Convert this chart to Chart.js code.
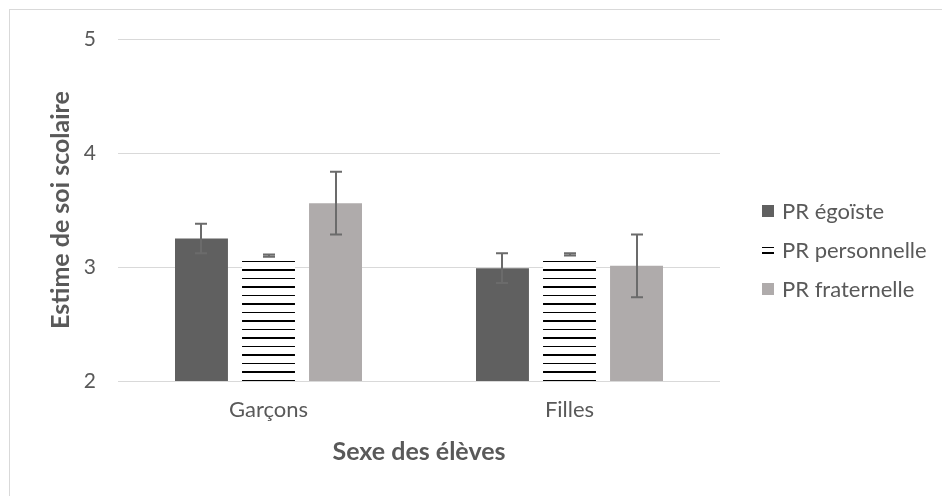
<!DOCTYPE html>
<html>
<head>
<meta charset="utf-8">
<script src="https://cdn.jsdelivr.net/npm/chart.js@4"></script>
<style>
body{margin:0;background:#fff;font-family:Lato,sans-serif}
#wrap{position:relative;width:942px;height:496px;overflow:hidden}
#frame{position:absolute;left:9px;top:9px;width:960px;height:520px;border:1px solid #d9d9d9;box-sizing:border-box}
#chart{position:absolute;left:0;top:0}
#legend{position:absolute;left:762px;top:191px;color:#595959;font-size:22px}
.item{display:flex;align-items:center;height:39px}
.swatch{width:12px;height:12px;margin-right:8px;box-sizing:border-box}
.stripes{border-top:1px solid #000;border-bottom:2px solid #000;height:7px;margin-top:2px}
</style>
</head>
<body>
<div id="wrap">
  <div id="frame"></div>
  <canvas id="chart" width="942" height="496"></canvas>
  <div id="legend"></div>
</div>
<script>
// data
const categories = ["Garçons", "Filles"]
const seriesNames = ["PR égoïste", "PR personnelle", "PR fraternelle"]
const egoiste = [3.25, 2.99]
const egoisteErr = [0.13, 0.13]
const personnelle = [3.10, 3.11]
const personnelleErr = [0.01, 0.01]
const fraternelle = [3.56, 3.01]
const fraternelleErr = [0.275, 0.275]

const yTicks = [2, 3, 4, 5]

const textColor = "#595959"
const gridColor = "#d9d9d9"

// horizontal lines, thin and thick one after the other
function makeStripes(){
    const c = document.createElement("canvas")
    c.width = 8
    c.height = 17
    const g = c.getContext("2d")
    g.fillStyle = "#fff"
    g.fillRect(0, 0, 8, 17)
    g.fillStyle = "#000"
    g.fillRect(0, 6, 8, 1)
    g.fillRect(0, 14, 8, 2)
    return g.createPattern(c, "repeat")
}

const ctx = document.getElementById("chart").getContext("2d")
const stripes = makeStripes()

const errorBars = {
    id: "errorBars",
    afterDatasetsDraw(chart){
        const c = chart.ctx
        const yScale = chart.scales.y
        c.save()
        c.strokeStyle = "#6b6b6b"
        c.lineWidth = 2
        chart.data.datasets.forEach((ds, i) => {
            const meta = chart.getDatasetMeta(i)
            meta.data.forEach((bar, j) => {
                const v = ds.data[j]
                const e = ds.errors[j]
                const top = yScale.getPixelForValue(v + e)
                const bot = yScale.getPixelForValue(v - e)
                const x = Math.round(bar.x)
                c.beginPath()
                c.moveTo(x, top)
                c.lineTo(x, bot)
                c.moveTo(x - 6, top)
                c.lineTo(x + 6, top)
                c.moveTo(x - 6, bot)
                c.lineTo(x + 6, bot)
                c.stroke()
            })
        })
        c.restore()
    }
}

const chart = new Chart(ctx, {
    type: "bar",
    data: {
        labels: categories,
        datasets: [
            {label: seriesNames[0], data: egoiste, errors: egoisteErr, backgroundColor: "#606060"},
            {label: seriesNames[1], data: personnelle, errors: personnelleErr, backgroundColor: stripes},
            {label: seriesNames[2], data: fraternelle, errors: fraternelleErr, backgroundColor: "#afabab"}
        ]
    },
    options: {
        responsive: false,
        animation: false,
        layout: {padding: {left: 0, top: 39, right: 222, bottom: 0}},
        datasets: {bar: {categoryPercentage: 0.668, barPercentage: 0.79}},
        plugins: {
            legend: {display: false},
            tooltip: {enabled: false}
        },
        scales: {
            x: {
                grid: {display: false},
                border: {display: false},
                ticks: {color: textColor, font: {family: "Lato", size: 22}, padding: 8},
                title: {display: true, text: "Sexe des élèves", color: textColor,
                    font: {family: "Lato", size: 25, weight: "bold"}, padding: {top: 0, bottom: 29}},
                afterFit(scale){ scale.height = 115 }
            },
            y: {
                min: 2,
                max: 5,
                afterBuildTicks(scale){ scale.ticks = yTicks.map(v => ({value: v})) },
                grid: {color: gridColor, drawTicks: false},
                border: {display: false},
                ticks: {color: textColor, font: {family: "Lato", size: 21}, padding: 22},
                title: {display: true, text: "Estime de soi scolaire", color: textColor,
                    font: {family: "Lato", size: 25, weight: "bold"}, padding: {top: 46, bottom: 0}},
                afterFit(scale){ scale.width = 118 }
            }
        }
    },
    plugins: [errorBars]
})

// legend on the right, like the original
const legend = document.getElementById("legend")
chart.data.datasets.forEach((ds, i) => {
    const item = document.createElement("div")
    item.className = "item"
    const sw = document.createElement("span")
    sw.className = i === 1 ? "swatch stripes" : "swatch"
    if (i !== 1) sw.style.background = ds.backgroundColor
    item.appendChild(sw)
    item.appendChild(document.createTextNode(ds.label))
    legend.appendChild(item)
})
</script>
</body>
</html>
